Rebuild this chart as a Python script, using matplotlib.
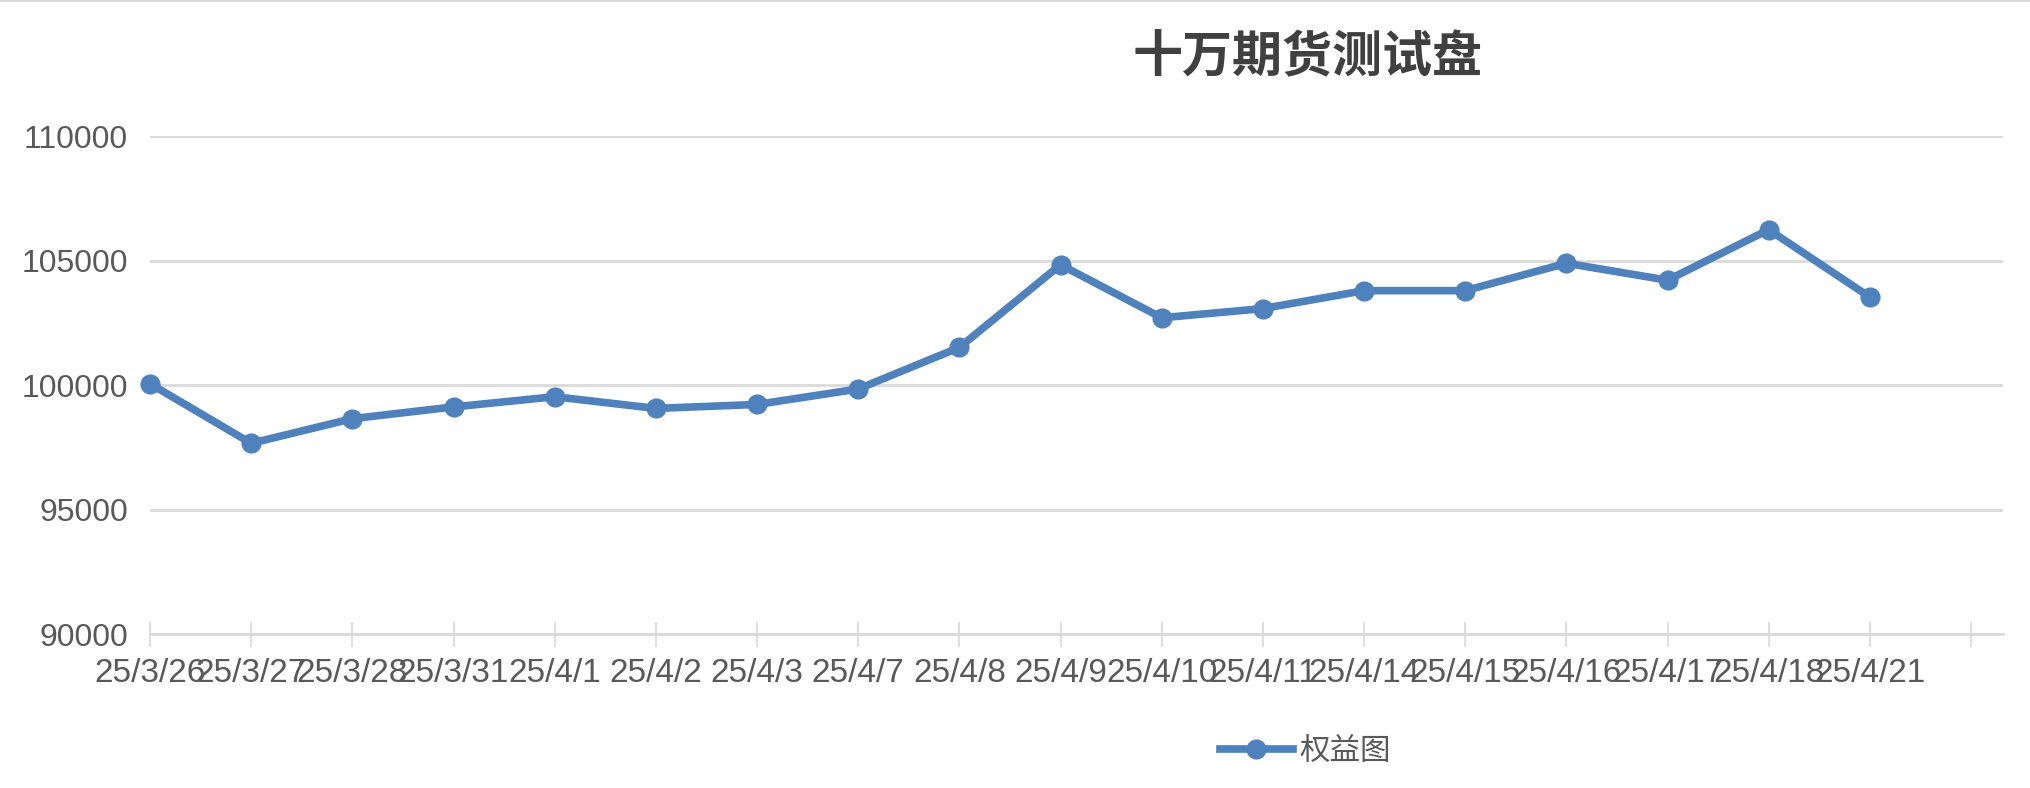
import matplotlib
matplotlib.use('Agg')
import matplotlib.pyplot as plt
from matplotlib.lines import Line2D

plt.rcParams['font.family'] = ['Liberation Sans', 'Noto Sans CJK SC', 'DejaVu Sans']

dates = ['25/3/26', '25/3/27', '25/3/28', '25/3/31', '25/4/1', '25/4/2', '25/4/3',
         '25/4/7', '25/4/8', '25/4/9', '25/4/10', '25/4/11', '25/4/14', '25/4/15',
         '25/4/16', '25/4/17', '25/4/18', '25/4/21']
equity = [100050, 97660, 98650, 99120, 99530, 99060, 99220, 99840, 101510,
          104830, 102700, 103070, 103790, 103790, 104890, 104210, 106240, 103530]
yticks = [90000, 95000, 100000, 105000, 110000]

blue = '#4f81bd'
grid_c = '#d9d9d9'
txt_c = '#595959'

fig = plt.figure(figsize=(20.3, 7.88), dpi=100)
ax = fig.add_axes([0.0739, 0.1954, 0.913, 0.632])

x = list(range(len(dates)))
ax.plot(x, equity, color=blue, lw=5.5, marker='o', ms=13.5, label='权益图',
        zorder=3, clip_on=False)

ax.set_ylim(90000, 110000)
ax.set_yticks(yticks)
ax.set_xlim(0, len(dates) + 0.32)
ax.set_xticks(range(len(dates) + 1))
ax.set_xticklabels(dates + [''])

ax.grid(axis='y', color=grid_c, lw=1.9)
ax.set_axisbelow(True)
for s in ['top', 'right', 'left']:
    ax.spines[s].set_visible(False)
ax.spines['bottom'].set_color(grid_c)
ax.spines['bottom'].set_linewidth(1.9)

ax.tick_params(axis='y', length=0, pad=16, labelsize=23, labelcolor=txt_c)
ax.tick_params(axis='x', direction='inout', length=18, width=1.2, color=grid_c,
               pad=8, labelsize=24, labelcolor=txt_c)

fig.text(0.644, 0.926, '十万期货测试盘', fontsize=36, fontweight='bold',
         color='#404040', ha='center', va='center', family=['Noto Sans CJK SC'])

leg = fig.legend(loc='center', bbox_to_anchor=(0.643, 0.047), frameon=False,
                 handlelength=2.4, handletextpad=0.2,
                 prop={'family': ['Noto Sans CJK SC'], 'size': 22})
for t in leg.get_texts():
    t.set_color(txt_c)

fig.add_artist(Line2D([0, 1], [0.999, 0.999], color=grid_c, lw=1.5))

fig.savefig('out.png', dpi=100)
